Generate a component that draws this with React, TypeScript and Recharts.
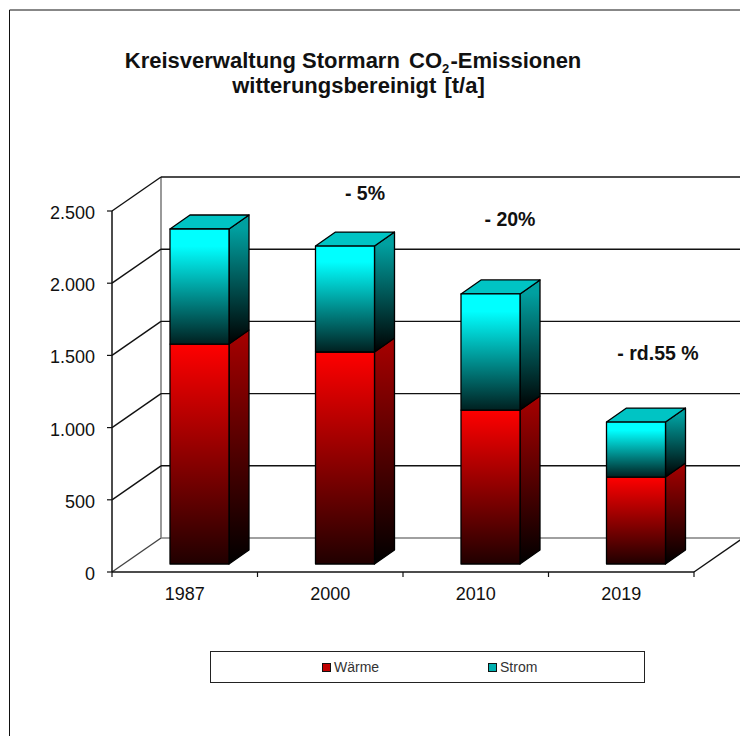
import React from "react";
import { ComposedChart, Bar, XAxis, YAxis, CartesianGrid, Legend } from "recharts";

const years = ["1987", "2000", "2010", "2019"];
const waerme = [1523, 1468, 1066, 602];
const strom = [797, 734, 804, 381];
const yTicks = [0, 500, 1000, 1500, 2000, 2500];
const notes = [
  { text: "- 5%", x: 365, y: 200 },
  { text: "- 20%", x: 510, y: 226 },
  { text: "- rd.55 %", x: 658, y: 360 },
];
const tableData = years.map((year, i) => ({ year, Wärme: waerme[i], Strom: strom[i] }));

const FONT = "'Liberation Sans', Arial, sans-serif";
const WALL_DX = 49;
const WALL_DY = -34;
const BAR_SHIFT_X = 15;
const BAR_SHIFT_Y = -8;
const SIDE_DX = 20;
const SIDE_DY = -14;
const BOTTOM_Y = 572;

function GridLine(props: any) {
  const { x1, x2, y1, height } = props;
  const isFloor = Math.abs(y1 - BOTTOM_Y) < 1;
  const stroke = isFloor ? "#808080" : "#111";
  return (
    <g>
      <line x1={x1} y1={y1} x2={x1 + WALL_DX} y2={y1 + WALL_DY} stroke={isFloor ? "#444" : "#111"} strokeWidth={1.4} />
      <line x1={x1 + WALL_DX} y1={y1 + WALL_DY} x2={x2 + WALL_DX} y2={y1 + WALL_DY} stroke={stroke} strokeWidth={1.4} />
      {isFloor && (
        <>
          <line x1={x1 + WALL_DX} y1={y1 + WALL_DY} x2={x1 + WALL_DX} y2={y1 + WALL_DY - height} stroke="#808080" strokeWidth={1.6} />
          <line x1={x2} y1={y1} x2={x2 + WALL_DX} y2={y1 + WALL_DY} stroke="#111" strokeWidth={1.4} />
        </>
      )}
    </g>
  );
}

function makeBox(front: string, side: string, withTop: boolean, topFill: string) {
  return function Box(props: any) {
    const { x, y, width, height } = props;
    const l = x + BAR_SHIFT_X;
    const t = y + BAR_SHIFT_Y;
    const r = l + width;
    const b = t + height;
    return (
      <g stroke="#000" strokeWidth={1.3} strokeLinejoin="round">
        <polygon points={`${r},${t} ${r + SIDE_DX},${t + SIDE_DY} ${r + SIDE_DX},${b + SIDE_DY} ${r},${b}`} fill={`url(#${side})`} />
        {withTop && (
          <polygon points={`${l},${t} ${l + SIDE_DX},${t + SIDE_DY} ${r + SIDE_DX},${t + SIDE_DY} ${r},${t}`} fill={topFill} />
        )}
        <rect x={l} y={t} width={width} height={height} fill={`url(#${front})`} />
      </g>
    );
  };
}

const RedBox = makeBox("redFront", "redSide", false, "#a00000");
const CyanBox = makeBox("cyanFront", "cyanSide", true, "#00c4c4");

function XTick(props: any) {
  const { x, y, payload, index, visibleTicksCount } = props;
  const band = 582 / years.length;
  const count = visibleTicksCount ?? years.length;
  return (
    <g>
      <line x1={x - band / 2} y1={y - 8} x2={x - band / 2} y2={y - 3} stroke="#111" strokeWidth={1.2} />
      {index === count - 1 && <line x1={x + band / 2} y1={y - 8} x2={x + band / 2} y2={y - 3} stroke="#111" strokeWidth={1.2} />}
      <text x={x} y={y + 20} textAnchor="middle" fontFamily={FONT} fontSize={18} fill="#111">
        {payload.value}
      </text>
    </g>
  );
}

function YTick(props: any) {
  const { x, y, payload } = props;
  return (
    <text x={x - 2} y={y + 8} textAnchor="end" fontFamily={FONT} fontSize={18} fill="#111">
      {Number(payload.value).toLocaleString("de-DE")}
    </text>
  );
}

function LegendBox(props: any) {
  const items = [
    { label: "Wärme", fill: "#c00000", left: 111 },
    { label: "Strom", fill: "#00b0b0", left: 277 },
  ];
  const names = (props.payload || []).map((p: any) => p.value);
  return (
    <div style={{ position: "relative", width: 435, height: 32, boxSizing: "border-box", border: "1px solid #222", background: "#fff" }}>
      {items
        .filter((it) => names.length === 0 || names.includes(it.label))
        .map((it) => (
          <div key={it.label} style={{ position: "absolute", left: it.left, top: 7, display: "flex", alignItems: "center", fontFamily: FONT, fontSize: 14, color: "#333", lineHeight: "16px" }}>
            <span style={{ width: 7, height: 7, background: it.fill, border: "1px solid #111", marginRight: 3, display: "inline-block" }} />
            {it.label}
          </div>
        ))}
    </div>
  );
}

export default function App() {
  return (
    <div style={{ position: "absolute", left: 0, top: 0, width: 740, height: 736, overflow: "hidden", background: "#fff" }}>
      <ComposedChart
        width={740}
        height={736}
        data={tableData}
        barCategoryGap="60%"
        margin={{ top: 211, right: 46, bottom: 134, left: 52 }}
      >
        <defs>
          <linearGradient id="redFront" x1="0" y1="0" x2="0" y2="1">
            <stop offset="0" stopColor="#ff0000" />
            <stop offset="1" stopColor="#200000" />
          </linearGradient>
          <linearGradient id="redSide" x1="0" y1="0" x2="0" y2="1">
            <stop offset="0" stopColor="#a80000" />
            <stop offset="1" stopColor="#000000" />
          </linearGradient>
          <linearGradient id="cyanFront" x1="0" y1="0" x2="0" y2="1">
            <stop offset="0" stopColor="#00ffff" />
            <stop offset="0.15" stopColor="#00ffff" />
            <stop offset="1" stopColor="#002020" />
          </linearGradient>
          <linearGradient id="cyanSide" x1="0" y1="0" x2="0" y2="1">
            <stop offset="0" stopColor="#00a0a0" />
            <stop offset="0.1" stopColor="#00a0a0" />
            <stop offset="1" stopColor="#000000" />
          </linearGradient>
        </defs>
        <line x1={9.5} y1={10} x2={740} y2={10} stroke="#111" strokeWidth={1} />
        <line x1={9.5} y1={10} x2={9.5} y2={736} stroke="#111" strokeWidth={1} />
        <CartesianGrid vertical={false} horizontal={(p: any) => <GridLine key={p.key} {...p} />} />
        <XAxis
          dataKey="year"
          height={30}
          axisLine={{ stroke: "#111", strokeWidth: 1.5 }}
          tickLine={false}
          interval={0}
          tick={<XTick />}
        />
        <YAxis
          width={60}
          domain={[0, 2500]}
          ticks={yTicks}
          tickSize={5}
          tickMargin={10}
          axisLine={{ stroke: "#111", strokeWidth: 1.5 }}
          tickLine={{ stroke: "#111", strokeWidth: 1.2 }}
          tick={<YTick />}
          interval={0}
        />
        <Bar dataKey="Wärme" stackId="a" barSize={59} isAnimationActive={false} shape={RedBox} fill="#c00000" />
        <Bar dataKey="Strom" stackId="a" barSize={59} isAnimationActive={false} shape={CyanBox} fill="#00b0b0" />
        <Legend
          layout="vertical"
          verticalAlign="middle"
          align="center"
          content={<LegendBox />}
          wrapperStyle={{ position: "absolute", left: 210, top: 651, width: 435, height: 32, margin: 0 }}
        />
        <text x={442} y={68} textAnchor="end" fontFamily={FONT} fontWeight="bold" fontSize={22} fill="#111">
          Kreisverwaltung Stormarn<tspan dx={3}> CO</tspan>
        </text>
        <text x={442} y={73} fontFamily={FONT} fontWeight="bold" fontSize={13} fill="#111">2</text>
        <text x={450.5} y={68} fontFamily={FONT} fontWeight="bold" fontSize={22} fill="#111">-Emissionen</text>
        <text x={358.5} y={93} textAnchor="middle" fontFamily={FONT} fontWeight="bold" fontSize={22} fill="#111">
          witterungsbereinigt<tspan dx={2}> [t/a]</tspan>
        </text>
        {notes.map((n) => (
          <text key={n.text} x={n.x} y={n.y} textAnchor="middle" fontFamily={FONT} fontWeight="bold" fontSize={19.5} fill="#111">
            {n.text}
          </text>
        ))}
      </ComposedChart>
    </div>
  );
}
